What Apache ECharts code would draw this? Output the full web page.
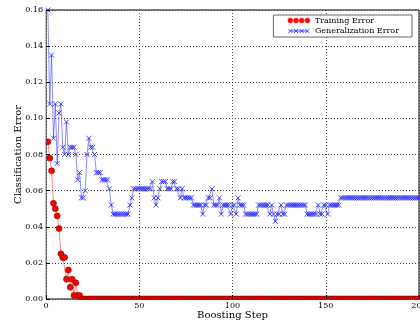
<!DOCTYPE html>
<html><head><meta charset="utf-8">
<script src="https://cdn.jsdelivr.net/npm/echarts@6/dist/echarts.min.js"></script>
<style>html,body{margin:0;padding:0;background:#fff}#c{width:420px;height:329px}</style>
</head><body><div id="c"></div>
<script>
const xTicks = [0, 50, 100, 150, 200];
const yTicks = [0, 0.02, 0.04, 0.06, 0.08, 0.10, 0.12, 0.14, 0.16];
const seriesNames = ['Training Error', 'Generalization Error'];

// boosting steps 1..200
const trainingError = [
  0.087,0.078,0.071,0.053,0.050,0.046,0.039,0.025,0.023,0.023,
  0.011,0.016,0.0065,0.011,0.002,0.009,0.002,0.002,
  0,0,0,0,0,0,0,0,0,0,0,0,0,0,0,0,0,0,0,0,
  0,0,0,0,0,0,0,0,0,0,0,0,0,0,0,0,0,0,0,0,
  0,0,0,0,0,0,0,0,0,0,0,0,0,0,0,0,0,0,0,0,
  0,0,0,0,0,0,0,0,0,0,0,0,0,0,0,0,0,0,0,0,
  0,0,0,0,0,0,0,0,0,0,0,0,0,0,0,0,0,0,0,0,
  0,0,0,0,0,0,0,0,0,0,0,0,0,0,0,0,0,0,0,0,
  0,0,0,0,0,0,0,0,0,0,0,0,0,0,0,0,0,0,0,0,
  0,0,0,0,0,0,0,0,0,0,0,0,0,0,0,0,0,0,0,0,
  0,0,0,0,0,0,0,0,0,0,0,0,0,0,0,0,0,0,0,0,
  0,0
];
const generalizationError = [
  0.160,0.108,0.135,0.089,0.108,0.075,0.103,0.108,0.084,0.080,
  0.098,0.080,0.084,0.084,0.084,0.080,0.066,0.070,0.056,0.056,
  0.060,0.080,0.089,0.084,0.084,0.080,0.070,0.070,0.070,0.066,
  0.066,0.066,0.066,0.061,0.052,0.047,0.047,0.047,0.047,0.047,
  0.047,0.047,0.047,0.047,0.052,0.056,0.061,0.061,0.061,0.061,
  0.061,0.061,0.061,0.061,0.061,0.061,0.065,0.056,0.052,0.056,
  0.061,0.065,0.065,0.065,0.061,0.061,0.061,0.065,0.065,0.061,
  0.061,0.056,0.061,0.056,0.056,0.056,0.056,0.056,0.052,0.052,
  0.052,0.052,0.052,0.047,0.052,0.052,0.056,0.056,0.061,0.052,
  0.052,0.052,0.056,0.047,0.052,0.052,0.052,0.052,0.047,0.052,
  0.052,0.047,0.056,0.052,0.052,0.052,0.047,0.047,0.047,0.047,
  0.047,0.047,0.047,0.052,0.052,0.052,0.052,0.052,0.052,0.047,
  0.052,0.047,0.043,0.047,0.047,0.052,0.047,0.047,0.052,0.052,
  0.052,0.052,0.052,0.052,0.052,0.052,0.052,0.052,0.052,0.047,
  0.047,0.047,0.047,0.047,0.047,0.052,0.047,0.047,0.052,0.052,
  0.047,0.052,0.052,0.052,0.052,0.052,0.052,0.056,0.056,0.056,
  0.056,0.056,0.056,0.056,0.056,0.056,0.056,0.056,0.056,0.056,
  0.056,0.056,0.056,0.056,0.056,0.056,0.056,0.056,0.056,0.056,
  0.056,0.056,0.056,0.056,0.056,0.056,0.056,0.056,0.056,0.056,
  0.056,0.056,0.056,0.056,0.056,0.056,0.056,0.056,0.056,0.056
];

const font = 'DejaVu Serif';
const chart = echarts.init(document.getElementById('c'), null, {renderer: 'canvas'});

const redIcon = 'path://M25,25L195,25M0,25a25,25 0 1,0 50,0a25,25 0 1,0 -50,0ZM57,25a25,25 0 1,0 50,0a25,25 0 1,0 -50,0ZM113,25a25,25 0 1,0 50,0a25,25 0 1,0 -50,0ZM170,25a25,25 0 1,0 50,0a25,25 0 1,0 -50,0Z';
const blueIcon = 'path://M25,25L195,25M5,5L45,45M5,45L45,5M62,5L102,45M62,45L102,5M118,5L158,45M118,45L158,5M175,5L215,45M175,45L215,5M0,0L0,0M220,50L220,50';

const option = {
  animation: false,
  backgroundColor: '#fff',
  grid: {left: 46, right: 1, top: 10, bottom: 30, show: true, borderColor: '#000', borderWidth: 1,
         outerBoundsMode: 'none', containLabel: false},
  xAxis: {
    type: 'value', min: xTicks[0], max: xTicks[xTicks.length - 1], interval: 50, z: 10,
    name: 'Boosting Step', nameLocation: 'middle', nameGap: 11, nameMoveOverlap: false,
    nameTextStyle: {fontFamily: font, fontSize: 10, color: '#000'},
    axisLine: {show: false},
    axisTick: {show: true, inside: true, length: 4, lineStyle: {color: '#000'}},
    axisLabel: {fontFamily: font, fontSize: 8, color: '#000', margin: 3, hideOverlap: false},
    splitLine: {show: true, lineStyle: {color: '#444', type: [1, 2], width: 1}}
  },
  yAxis: {
    type: 'value', min: yTicks[0], max: yTicks[yTicks.length - 1], interval: 0.02, z: 10,
    name: 'Classification Error', nameLocation: 'middle', nameGap: 23, nameMoveOverlap: false,
    nameTextStyle: {fontFamily: font, fontSize: 10, color: '#000'},
    axisLine: {show: false},
    axisTick: {show: true, inside: true, length: 4, lineStyle: {color: '#000'}},
    axisLabel: {fontFamily: font, fontSize: 8, color: '#000', margin: 3, formatter: v => v.toFixed(2)},
    splitLine: {show: true, lineStyle: {color: '#444', type: [1, 2], width: 1}}
  },
  legend: {
    orient: 'vertical', right: 8, top: 15, z: 12,
    backgroundColor: '#fff', borderColor: '#666', borderWidth: 1, borderRadius: 0,
    padding: [1, 13, 1, 12], itemWidth: 22, itemHeight: 5, itemGap: 1,
    textStyle: {fontFamily: font, fontSize: 8, color: '#000', lineHeight: 9},
    data: [
      {name: seriesNames[0], icon: redIcon, itemStyle: {color: '#ff0000', borderColor: '#ff3030', borderWidth: 0.6}},
      {name: seriesNames[1], icon: blueIcon, itemStyle: {color: 'none', borderColor: '#4040ff', borderWidth: 1}}
    ]
  },
  graphic: [
    {type: 'rect', silent: true, z: 5, shape: {x: 0, y: 300, width: 420, height: 29}, style: {fill: '#fff'}},
    {type: 'rect', silent: true, z: 5, shape: {x: 0, y: 0, width: 45.5, height: 329}, style: {fill: '#fff'}}
  ],
  series: [
    {
      name: seriesNames[0], type: 'line', z: 2,
      data: trainingError.map((v, i) => [i + 1, v]),
      symbol: 'circle', symbolSize: 6,
      itemStyle: {color: '#ff0000', borderColor: '#800000', borderWidth: 0.6},
      lineStyle: {color: 'rgba(255,0,0,0.45)', width: 1}
    },
    {
      name: seriesNames[1], type: 'line', z: 3,
      data: generalizationError.map((v, i) => [i + 1, v]),
      symbol: 'path://M0,0L10,10M0,10L10,0', symbolSize: 5,
      itemStyle: {color: 'none', borderColor: 'rgba(40,40,255,0.85)', borderWidth: 1},
      lineStyle: {color: 'rgba(0,0,255,0.45)', width: 1}
    }
  ]
};
chart.setOption(option);
</script></body></html>
